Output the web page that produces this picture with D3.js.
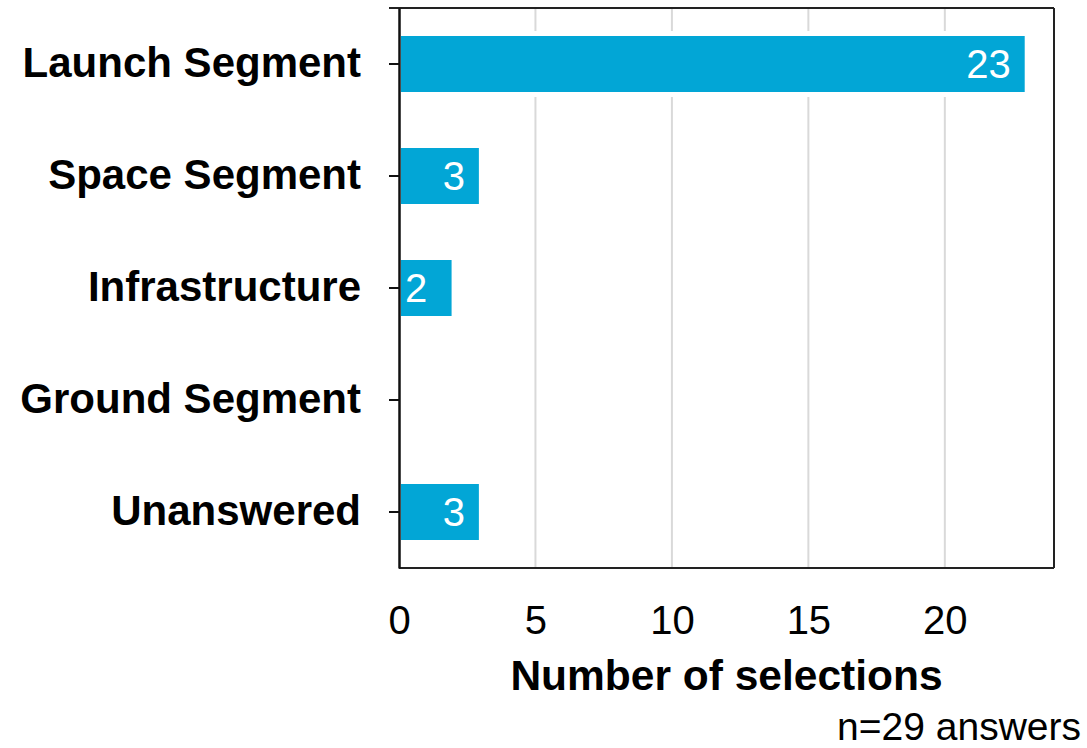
<!DOCTYPE html>
<html>
<head>
<meta charset="utf-8">
<script src="https://cdn.jsdelivr.net/npm/d3@7"></script>
<style>
  body { margin: 0; background: #fff; }
  svg { display: block; font-family: "Liberation Sans", Arial, sans-serif; }
</style>
</head>
<body>
<svg></svg>
<script>
const categories = ["Launch Segment", "Space Segment", "Infrastructure", "Ground Segment", "Unanswered"];
const counts = [23, 3, 2, 0, 3];
const xTicks = [0, 5, 10, 15, 20];
const xTitle = "Number of selections";
const note = "n=29 answers";

const width = 1087, height = 748;
const margin = {top: 8, right: 33, bottom: 180, left: 399};
const innerWidth = width - margin.left - margin.right;
const innerHeight = height - margin.top - margin.bottom;

const svg = d3.select("svg").attr("width", width).attr("height", height);
const g = svg.append("g").attr("transform", "translate(" + margin.left + "," + margin.top + ")");

const x = d3.scaleLinear().domain([0, 24]).range([0, innerWidth]);
const y = d3.scaleBand().domain(categories).range([0, innerHeight]).paddingInner(0.5).paddingOuter(0.25);

// gridlines
g.selectAll("line.grid").data(xTicks.filter(d => d > 0))
  .enter().append("line")
    .attr("class", "grid")
    .attr("x1", d => x(d)).attr("x2", d => x(d))
    .attr("y1", 0).attr("y2", innerHeight)
    .attr("stroke", "#d9d9d9").attr("stroke-width", 2);

const data = categories.map((c, i) => ({cat: c, v: counts[i]})).filter(d => d.v > 0);

// white halo behind bars (gridlines break around bars)
g.selectAll("rect.halo").data(data)
  .enter().append("rect")
    .attr("class", "halo")
    .attr("x", 0)
    .attr("y", d => y(d.cat) - 5)
    .attr("width", d => x(d.v) + 2)
    .attr("height", y.bandwidth() + 10)
    .attr("fill", "#fff");

g.selectAll("rect.bar").data(data)
  .enter().append("rect")
    .attr("class", "bar")
    .attr("x", 2)
    .attr("y", d => y(d.cat))
    .attr("width", d => x(d.v) - 4)
    .attr("height", y.bandwidth())
    .attr("fill", "#02a6d6");

// value labels
g.selectAll("text.val").data(data)
  .enter().append("text")
    .attr("class", "val")
    .attr("x", d => x(d.v) < 60 ? 6 : x(d.v) - 16)
    .attr("y", d => y(d.cat) + y.bandwidth() / 2)
    .attr("dy", "0.36em")
    .attr("text-anchor", d => x(d.v) < 60 ? "start" : "end")
    .attr("fill", "#fff")
    .attr("font-size", 40)
    .text(d => d.v);

// frame
g.append("line").attr("x1", -10).attr("x2", innerWidth).attr("y1", 0).attr("y2", 0)
  .attr("stroke", "#222").attr("stroke-width", 2);
g.append("line").attr("x1", innerWidth).attr("x2", innerWidth).attr("y1", 0).attr("y2", innerHeight)
  .attr("stroke", "#222").attr("stroke-width", 2);
g.append("line").attr("x1", 0).attr("x2", innerWidth).attr("y1", innerHeight).attr("y2", innerHeight)
  .attr("stroke", "#222").attr("stroke-width", 2);

// y axis
const yAxis = g.append("g").call(d3.axisLeft(y).tickSizeInner(10).tickSizeOuter(0).tickPadding(28));
yAxis.select(".domain").attr("stroke", "#111").attr("stroke-width", 2.5);
yAxis.selectAll(".tick line").attr("stroke", "#111").attr("stroke-width", 2);
yAxis.selectAll(".tick text")
  .attr("font-size", 42).attr("font-weight", "bold").attr("fill", "#000")
  .attr("font-family", "Liberation Sans, Arial, sans-serif");

// x axis
const xAxis = g.append("g").attr("transform", "translate(0," + innerHeight + ")")
  .call(d3.axisBottom(x).tickValues(xTicks).tickSize(0).tickPadding(38));
xAxis.select(".domain").remove();
xAxis.selectAll(".tick text")
  .attr("font-size", 40).attr("fill", "#000")
  .attr("font-family", "Liberation Sans, Arial, sans-serif");

svg.append("text")
  .attr("x", margin.left + innerWidth / 2)
  .attr("y", 690)
  .attr("text-anchor", "middle")
  .attr("font-size", 42.5).attr("font-weight", "bold")
  .text(xTitle);

svg.append("text")
  .attr("x", 1081)
  .attr("y", 740)
  .attr("text-anchor", "end")
  .attr("font-size", 39)
  .text(note);
</script>
</body>
</html>
